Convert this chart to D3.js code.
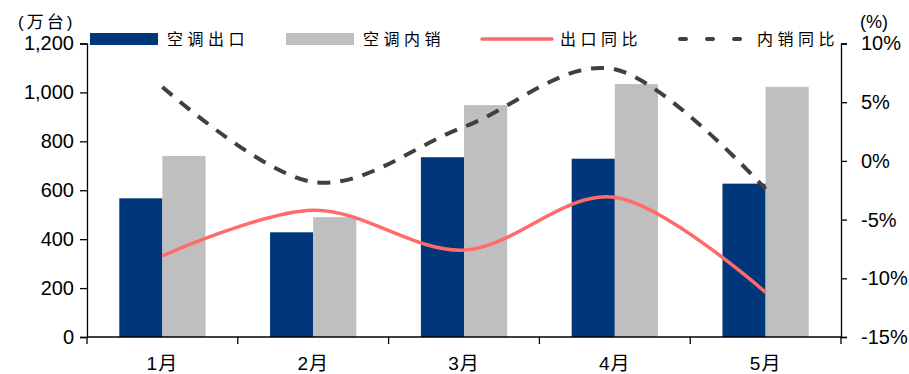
<!DOCTYPE html>
<html>
<head>
<meta charset="utf-8">
<script src="https://cdn.jsdelivr.net/npm/d3@7"></script>
<style>
  html, body { margin: 0; padding: 0; background: #fff; }
  svg { display: block; }
  .num { font-family: "Liberation Sans", Arial, sans-serif; fill: #000; }
  .cjk { font-family: "Noto Sans CJK SC", sans-serif; fill: #000; }
</style>
</head>
<body>
<svg id="chart" width="909" height="374"></svg>
<script>
// Monthly air-conditioner shipments (10k units) and year-on-year change (%)
const months = ["1月", "2月", "3月", "4月", "5月"];
const exportUnits = [567, 428, 735, 729, 627];
const domesticUnits = [740, 490, 948, 1034, 1023];
const exportYoY = [-8.1, -4.2, -7.6, -3.1, -11.2];
const domesticYoY = [6.3, -1.8, 2.9, 7.8, -2.4];
const leftTicks = [0, 200, 400, 600, 800, 1000, 1200];
const rightTicks = [-15, -10, -5, 0, 5, 10];
const seriesNames = ["空调出口", "空调内销", "出口同比", "内销同比"];

const colors = {
  exp: "#00377A",
  dom: "#BFBFBF",
  expLine: "#FF6B6B",
  domLine: "#404040"
};

const svg = d3.select("#chart");
const plot = { left: 87, right: 841, top: 43.5, bottom: 337 };

const x = d3.scaleBand().domain(months).range([plot.left, plot.right]);
const yL = d3.scaleLinear().domain([0, 1200]).range([plot.bottom, plot.top]);
const yR = d3.scaleLinear().domain([-15, 10]).range([plot.bottom, plot.top]);

const barW = x.bandwidth() * 0.286;
const center = m => x(m) + x.bandwidth() / 2;

// Bars
svg.append("g").selectAll("rect.exp").data(months).join("rect")
  .attr("x", m => center(m) - barW)
  .attr("y", (m, i) => yL(exportUnits[i]))
  .attr("width", barW)
  .attr("height", (m, i) => yL(0) - yL(exportUnits[i]))
  .attr("fill", colors.exp);

svg.append("g").selectAll("rect.dom").data(months).join("rect")
  .attr("x", m => center(m))
  .attr("y", (m, i) => yL(domesticUnits[i]))
  .attr("width", barW)
  .attr("height", (m, i) => yL(0) - yL(domesticUnits[i]))
  .attr("fill", colors.dom);

// Smoothed YoY lines
const line = d3.line()
  .x((d, i) => center(months[i]))
  .y(d => yR(d))
  .curve(d3.curveCardinal.tension(0));

svg.append("path").datum(exportYoY)
  .attr("d", line)
  .attr("fill", "none")
  .attr("stroke", colors.expLine)
  .attr("stroke-width", 3.5);

svg.append("path").datum(domesticYoY)
  .attr("d", line)
  .attr("fill", "none")
  .attr("stroke", colors.domLine)
  .attr("stroke-width", 4)
  .attr("stroke-dasharray", "13,10");

// Axes
const axisL = svg.append("g")
  .attr("transform", `translate(${plot.left},0)`)
  .call(d3.axisLeft(yL).tickValues(leftTicks).tickSize(7).tickPadding(6)
    .tickFormat(d3.format(",")));
const axisR = svg.append("g")
  .attr("transform", `translate(${plot.right},0)`)
  .call(d3.axisRight(yR).tickValues(rightTicks).tickSize(6).tickPadding(14)
    .tickFormat(d => d + "%"));
const axisX = svg.append("g")
  .attr("transform", `translate(0,${plot.bottom})`)
  .call(d3.axisBottom(x).tickSize(0).tickPadding(20));

[axisL, axisR, axisX].forEach(g => {
  g.select(".domain").attr("stroke", "#000").attr("stroke-width", 1.3);
  g.selectAll(".tick line").attr("stroke", "#000").attr("stroke-width", 1.3);
});
axisL.selectAll("text").attr("class", "num").attr("font-size", 20);
axisR.selectAll("text").attr("class", "num").attr("font-size", 20);
axisX.selectAll("text").attr("class", "num")
  .style("font-family", "'Liberation Sans', 'Noto Sans CJK SC', sans-serif")
  .attr("font-size", 19).attr("letter-spacing", 1);
axisX.select(".domain").attr("d", `M${plot.left},0H${plot.right}`);

// Category boundary ticks on the x axis
const bounds = months.map(m => x(m)).concat([plot.right]);
axisX.selectAll("line.bound").data(bounds).join("line")
  .attr("class", "bound")
  .attr("x1", d => d).attr("x2", d => d)
  .attr("y1", 0).attr("y2", 7)
  .attr("stroke", "#000").attr("stroke-width", 1.3);

// Axis units
svg.append("text").attr("x", 18).attr("y", 28)
  .style("font-family", "'Liberation Sans', 'Noto Sans CJK SC', sans-serif")
  .attr("font-size", 17).attr("letter-spacing", 3).text("(万台)");
svg.append("text").attr("x", 860).attr("y", 28)
  .attr("class", "num").attr("font-size", 18).text("(%)");

// Legend
const legend = svg.append("g").attr("class", "legend");
const legY = 39;
const items = [
  { type: "rect", color: colors.exp, x0: 90, x1: 158, tx: 167 },
  { type: "rect", color: colors.dom, x0: 286, x1: 354, tx: 363 },
  { type: "line", color: colors.expLine, x0: 482, x1: 552, tx: 560 },
  { type: "dash", color: colors.domLine, x0: 678, x1: 748, tx: 757 }
];
items.forEach((it, i) => {
  if (it.type === "rect") {
    legend.append("rect").attr("x", it.x0).attr("y", legY - 6)
      .attr("width", it.x1 - it.x0).attr("height", 12).attr("fill", it.color);
  } else {
    legend.append("line").attr("x1", it.x0).attr("x2", it.x1)
      .attr("y1", legY).attr("y2", legY)
      .attr("stroke", it.color)
      .attr("stroke-width", it.type === "dash" ? 4 : 3.5)
      .attr("stroke-linecap", "round")
      .attr("stroke-dasharray", it.type === "dash" ? "6,21" : null)
      .attr("transform", it.type === "dash" ? "translate(2,0)" : null);
  }
  legend.append("text").attr("class", "cjk")
    .attr("x", it.tx).attr("y", legY).attr("dy", "0.36em")
    .attr("font-size", 16).attr("letter-spacing", 4.5)
    .text(seriesNames[i]);
});
</script>
</body>
</html>
